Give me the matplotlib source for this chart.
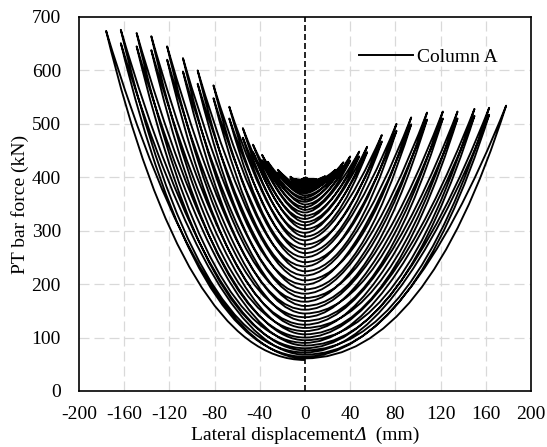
import matplotlib
matplotlib.use("Agg")
import matplotlib.pyplot as plt
from matplotlib.path import Path
from matplotlib.patches import PathPatch
from matplotlib.offsetbox import TextArea, HPacker, AnchoredOffsetbox

plt.rcParams["font.family"] = ["Liberation Serif", "DejaVu Serif"]
plt.rcParams["axes.unicode_minus"] = False

# peak displacement of each loading level (mm), push (+) and pull (-) side
amp_pos = [5, 10, 18, 27, 34, 40, 48, 55, 68, 81, 94, 108, 122, 135, 150, 163, 178]
amp_neg = [5, 10, 13, 24, 33, 38, 46, 55, 67, 81, 95, 108, 122, 136, 149, 163, 176]
# PT bar force at the peaks (kN), first and second cycle of each level
peak_pos_1 = [393, 397, 402, 414, 428, 439, 448, 457, 479, 500, 512, 521, 523, 523, 528, 530, 534]
peak_pos_2 = [392, 395, 399, 409, 421, 431, 439, 447, 467, 487, 499, 508, 510, 510, 515, 517]
peak_neg_1 = [393, 397, 401, 414, 429, 442, 461, 492, 532, 572, 600, 623, 645, 664, 670, 676, 674]
peak_neg_2 = [392, 395, 398, 409, 421, 432, 447, 474, 510, 548, 575, 598, 620, 638, 645, 651]
# PT bar force each time the column passes zero displacement (kN)
zero_force = [400,
              399, 398, 397, 396,
              395, 393, 392, 390,
              388, 386, 384, 382,
              379, 376, 373, 370,
              366, 362, 358, 354,
              349, 344, 339, 334,
              328, 322, 316, 310,
              303, 296, 289, 282,
              274, 266, 258, 250,
              241, 233, 224, 216,
              207, 199, 190, 182,
              174, 167, 159, 152,
              145, 138, 131, 124,
              118, 112, 106, 100,
              95, 90, 85, 80,
              76, 72, 68, 64,
              61, 58]

fig = plt.figure(figsize=(5.47, 4.47), dpi=100)
ax = fig.add_axes([0.1444, 0.1253, 0.8263, 0.8367])

# build the whole loading history as one path of curved branches
verts = [(0, zero_force[0])]
codes = [Path.MOVETO]
k = 0
n_lvl = len(amp_pos)
for i in range(n_lvl):
    # small cycles are V shaped, large ones close to parabolic
    bend = 0.28 + 0.22 * i / (n_lvl - 1)
    peaks = [(peak_pos_1[i], peak_neg_1[i])]
    if i < len(peak_pos_2):
        peaks.append((peak_pos_2[i], peak_neg_2[i]))
    for fp, fn in peaks:
        for d, f in [(amp_pos[i], fp), (-amp_neg[i], fn)]:
            c0 = zero_force[k]
            c1 = zero_force[k + 1]
            verts += [(d * bend, c0), (d, f), (d * (bend + 0.1), c1), (0, c1)]
            codes += [Path.CURVE3] * 4
            k += 1

ax.add_patch(PathPatch(Path(verts, codes), facecolor="none", edgecolor="black",
                       lw=1.35, joinstyle="round", zorder=3))
ax.plot([], [], color="black", lw=1.4, label="Column A")

ax.axvline(0, color="black", lw=1.2, ls=(0, (3.6, 1.8)), zorder=4)

ax.set_xlim(-200, 200)
ax.set_ylim(0, 700)
ax.set_xticks(range(-200, 201, 40))
ax.set_yticks(range(0, 701, 100))
for x in range(-160, 161, 40):
    if x != 0:
        ax.axvline(x, color="#d9d9d9", lw=0.9, ls=(0, (8, 4)), zorder=1)
for y in range(100, 601, 100):
    ax.axhline(y, color="#d9d9d9", lw=0.9, ls=(0, (8, 4)), zorder=1)

ax.tick_params(length=0, labelsize=14)
ax.tick_params(axis="y", pad=13)
ax.tick_params(axis="x", pad=11)
for s in ax.spines.values():
    s.set_linewidth(1.2)

ax.set_ylabel("PT bar force (kN)", fontsize=14, labelpad=2)

# x label with an italic delta
lab = HPacker(children=[TextArea("Lateral displacement", textprops=dict(fontsize=14)),
                        TextArea("Δ", textprops=dict(fontsize=14, style="italic")),
                        TextArea("  (mm)", textprops=dict(fontsize=14))],
              pad=0, sep=0, align="baseline")
fig.add_artist(AnchoredOffsetbox(loc="center", child=lab, frameon=False, pad=0, borderpad=0,
                                 bbox_to_anchor=(0.558, 0.027), bbox_transform=fig.transFigure))

ax.legend(loc="center right", bbox_to_anchor=(0.965, 0.893), frameon=False, fontsize=14,
          handlelength=2.8, handletextpad=0.2)

fig.savefig("out.png", dpi=100)
